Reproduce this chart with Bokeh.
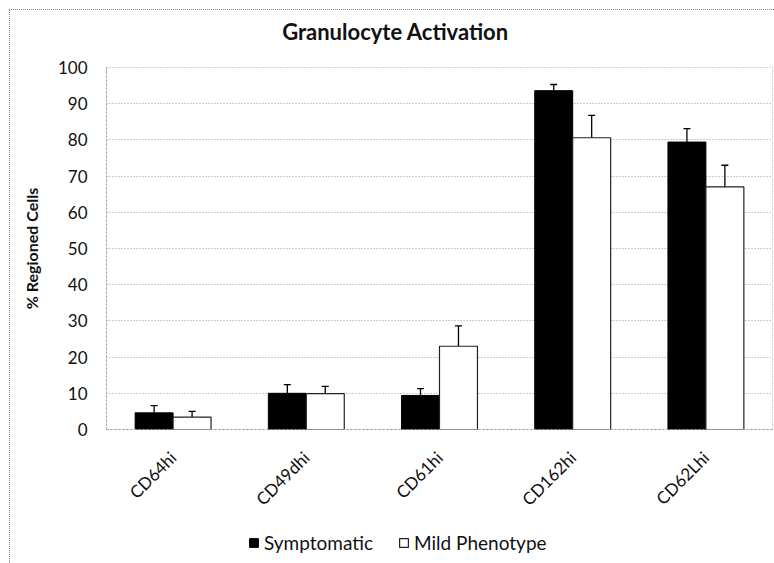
from math import pi
import numpy as np
from bokeh.plotting import figure
from bokeh.layouts import column
from bokeh.models import (ColumnDataSource, FactorRange, Range1d, Legend, LegendItem,
                          Whisker, TeeHead, Label)
from bokeh.transform import dodge
from bokeh.embed import file_html
from bokeh.resources import INLINE

categories = ["CD64hi", "CD49dhi", "CD61hi", "CD162hi", "CD62Lhi"]
symptomatic = [4.6, 10.0, 9.4, 93.6, 79.4]
symptomatic_err = [2.0, 2.4, 1.9, 1.7, 3.7]
mild = [3.4, 9.9, 23.0, 80.6, 67.0]
mild_err = [1.6, 2.0, 5.6, 6.2, 6.0]
series_names = ["Symptomatic", "Mild Phenotype"]
chart_title = "Granulocyte Activation"
yticks = list(range(0, 101, 10))

FONT = "Lato"
W_FIG = 764

src = ColumnDataSource(dict(
    cat=categories,
    s=symptomatic, s_top=[v + e for v, e in zip(symptomatic, symptomatic_err)],
    m=mild, m_top=[v + e for v, e in zip(mild, mild_err)],
))

# ---- title strip ----
tt = figure(width=W_FIG, height=45, output_backend="svg", toolbar_location=None,
            x_range=Range1d(0, 1), y_range=Range1d(0, 1),
            x_axis_type=None, y_axis_type=None, min_border=0)
tt.outline_line_color = None
tt.grid.visible = False
tt.add_layout(Label(x=289, y=24, x_units="screen", y_units="screen", text=chart_title,
                    text_align="center", text_baseline="alphabetic",
                    text_font=FONT, text_font_size="22px", text_font_style="bold",
                    text_color="#111111"))

# ---- main chart ----
p = figure(width=W_FIG, height=465, output_backend="svg", toolbar_location=None,
           x_range=FactorRange(*categories, range_padding=0), y_range=Range1d(0, 100))
p.min_border_left = 96
p.min_border_right = 2
p.min_border_top = 12
p.min_border_bottom = 91
p.outline_line_color = "#aaaaaa"
p.outline_line_dash = "1 2"

W = 0.285
p.vbar(x=dodge("cat", -W / 2, range=p.x_range), top="s", width=W, source=src,
       fill_color="black", line_color="black")
p.vbar(x=dodge("cat", W / 2, range=p.x_range), top="m", width=W, source=src,
       fill_color="white", line_color="#222222", line_width=1.2)

for col, top, off in (("s", "s_top", -W / 2), ("m", "m_top", W / 2)):
    w = Whisker(base=dodge("cat", off, range=p.x_range), lower=col, upper=top, source=src,
                line_color="black", line_width=1.3,
                upper_head=TeeHead(size=7, line_color="black", line_width=1.3),
                lower_head=None)
    p.add_layout(w)

p.xgrid.grid_line_color = None
p.ygrid.grid_line_color = "#999999"
p.ygrid.grid_line_dash = "1 2"
p.yaxis.ticker = yticks
p.yaxis.axis_line_color = "#999999"
p.yaxis.axis_line_dash = "2 2"
p.yaxis.major_tick_line_color = None
p.yaxis.minor_tick_line_color = None
p.yaxis.major_tick_out = 0
p.yaxis.major_tick_in = 0
p.yaxis.minor_tick_out = 0
p.yaxis.major_label_standoff = 19
p.yaxis.major_label_text_font = FONT
p.yaxis.major_label_text_font_size = "17px"
p.yaxis.major_label_text_color = "#111111"
p.yaxis.axis_label = "% Regioned Cells"
p.yaxis.axis_label_text_font = FONT
p.yaxis.axis_label_text_font_size = "16px"
p.yaxis.axis_label_text_font_style = "bold"
p.yaxis.axis_label_text_color = "#111111"
p.yaxis.axis_label_standoff = 14

p.xaxis.axis_line_color = "#999999"
p.xaxis.axis_line_dash = "2 2"
p.xaxis.major_tick_line_color = None
p.xaxis.minor_tick_line_color = None
p.xaxis.major_tick_out = 0
p.xaxis.major_tick_in = 0
p.xaxis.minor_tick_out = 0
p.xaxis.major_label_orientation = pi / 4
p.xaxis.major_label_text_font = FONT
p.xaxis.major_label_text_font_size = "17px"
p.xaxis.major_label_text_color = "#111111"
p.xaxis.major_label_standoff = 25

# ---- legend strip ----
lg = figure(width=W_FIG, height=43, output_backend="svg", toolbar_location=None,
            x_range=Range1d(0, 1), y_range=Range1d(0, 1),
            x_axis_type=None, y_axis_type=None, min_border=0)
lg.outline_line_color = None
lg.grid.visible = False
nan_src = ColumnDataSource(dict(x=np.array([np.nan]), top=np.array([np.nan])))
e1 = lg.vbar(x="x", top="top", width=0.1, source=nan_src,
             fill_color="black", line_color="black")
e2 = lg.vbar(x="x", top="top", width=0.1, source=nan_src,
             fill_color="white", line_color="#222222", line_width=1.2)
legend = Legend(items=[LegendItem(label=series_names[0], renderers=[e1]),
                       LegendItem(label=series_names[1], renderers=[e2])],
                orientation="horizontal", location=(142, 9),
                label_text_font=FONT, label_text_font_size="19px",
                label_text_color="#111111",
                glyph_width=11, glyph_height=11, spacing=25, label_standoff=5,
                border_line_color=None, background_fill_alpha=0, padding=2, margin=0)
lg.add_layout(legend, "center")

layout = column(tt, p, lg, spacing=0)
layout.styles = {"margin-left": "9px", "margin-top": "9px",
                 "border-left": "1px dotted #888888", "border-top": "1px dotted #888888"}

open("out.html", "w").write(file_html(layout, INLINE))
